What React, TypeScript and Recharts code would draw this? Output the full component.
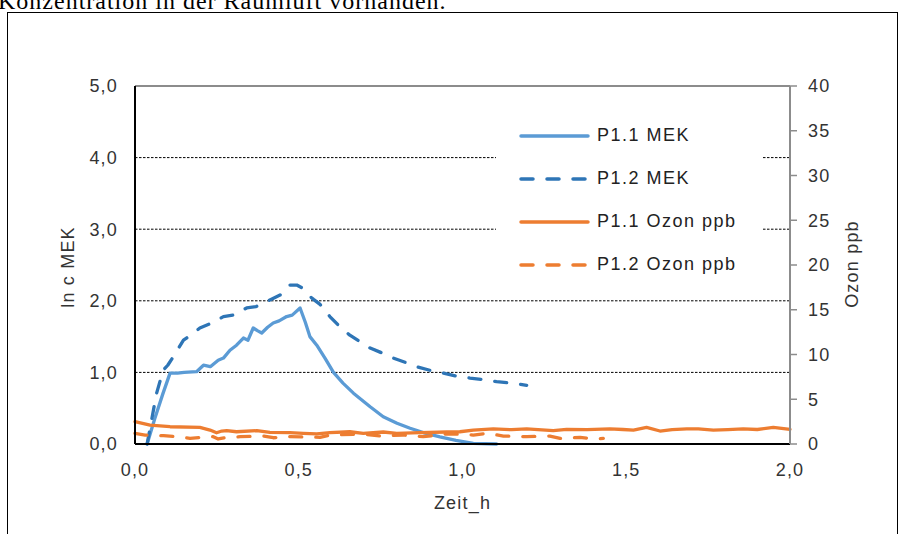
import { Legend, Line, LineChart, ReferenceLine, XAxis, YAxis } from "recharts";

type Pt = [number, number];

const xTicks = [0, 0.5, 1, 1.5, 2];
const mekTicks = [0, 1, 2, 3, 4, 5];
const ozonTicks = [0, 5, 10, 15, 20, 25, 30, 35, 40];
const gridValues = [1, 2, 3, 4];

// Zeit_h, ln c MEK
const p11Mek: Pt[] = [
  [0.037, 0], [0.06, 0.35], [0.085, 0.7], [0.107, 0.99], [0.13, 0.99], [0.15, 1.0],
  [0.188, 1.01], [0.209, 1.1], [0.23, 1.08], [0.254, 1.17], [0.27, 1.2], [0.29, 1.31],
  [0.31, 1.38], [0.331, 1.48], [0.345, 1.45], [0.361, 1.62], [0.375, 1.58], [0.387, 1.55],
  [0.405, 1.63], [0.422, 1.69], [0.44, 1.72], [0.463, 1.78], [0.48, 1.8], [0.504, 1.9],
  [0.52, 1.7], [0.534, 1.5], [0.555, 1.38], [0.58, 1.2], [0.606, 1.0], [0.635, 0.85],
  [0.667, 0.71], [0.718, 0.52], [0.758, 0.38], [0.8, 0.29], [0.84, 0.22], [0.88, 0.16],
  [0.931, 0.1], [0.98, 0.05], [1.033, 0.01], [1.104, 0],
];

const p12Mek: Pt[] = [
  [0.037, 0], [0.066, 0.71], [0.086, 1.03], [0.1, 1.1], [0.117, 1.22], [0.148, 1.45],
  [0.17, 1.52], [0.198, 1.62], [0.24, 1.7], [0.27, 1.78], [0.3, 1.8], [0.341, 1.9],
  [0.37, 1.92], [0.402, 1.99], [0.443, 2.08], [0.473, 2.22], [0.494, 2.22], [0.51, 2.18],
  [0.524, 2.1], [0.545, 2.02], [0.565, 1.95], [0.595, 1.78], [0.625, 1.64], [0.656, 1.52],
  [0.69, 1.42], [0.718, 1.34], [0.75, 1.28], [0.789, 1.2], [0.825, 1.14], [0.86, 1.08],
  [0.9, 1.03], [0.941, 0.99], [0.98, 0.95], [1.023, 0.92], [1.06, 0.9], [1.104, 0.87],
  [1.15, 0.85], [1.196, 0.82],
];

// Zeit_h, Ozon ppb
const p11Ozon: Pt[] = [
  [0, 2.5], [0.046, 2.1], [0.107, 1.93], [0.198, 1.86], [0.229, 1.56], [0.249, 1.26],
  [0.265, 1.45], [0.28, 1.49], [0.31, 1.37], [0.372, 1.49], [0.412, 1.3], [0.473, 1.26],
  [0.514, 1.19], [0.555, 1.12], [0.595, 1.26], [0.656, 1.37], [0.697, 1.19], [0.758, 1.34],
  [0.799, 1.19], [0.87, 1.26], [0.952, 1.34], [0.992, 1.37], [1.033, 1.56], [1.094, 1.68],
  [1.15, 1.6], [1.196, 1.68], [1.277, 1.49], [1.318, 1.64], [1.38, 1.6], [1.45, 1.68],
  [1.49, 1.62], [1.522, 1.56], [1.562, 1.86], [1.603, 1.45], [1.64, 1.6], [1.685, 1.68],
  [1.72, 1.7], [1.766, 1.56], [1.81, 1.6], [1.857, 1.68], [1.9, 1.62], [1.949, 1.86],
  [2.0, 1.64],
];

const p12Ozon: Pt[] = [
  [0, 1.19], [0.031, 1.0], [0.087, 0.93], [0.13, 0.8], [0.168, 0.63], [0.239, 0.82],
  [0.254, 0.56], [0.275, 0.7], [0.321, 0.82], [0.392, 0.89], [0.422, 0.7], [0.473, 0.82],
  [0.565, 0.75], [0.595, 1.0], [0.697, 1.12], [0.748, 0.89], [0.819, 1.0], [0.88, 0.82],
  [0.952, 1.12], [0.992, 1.1], [1.033, 1.0], [1.074, 1.19], [1.125, 0.89], [1.196, 0.82],
  [1.267, 0.89], [1.298, 0.63], [1.359, 0.75], [1.4, 0.56], [1.43, 0.63],
];

const series = [
  { name: "P1.1 MEK", points: p11Mek, axis: "left", color: "#5B9BD5", dashed: false },
  { name: "P1.2 MEK", points: p12Mek, axis: "left", color: "#2E75B6", dashed: true },
  { name: "P1.1 Ozon ppb", points: p11Ozon, axis: "right", color: "#ED7D31", dashed: false },
  { name: "P1.2 Ozon ppb", points: p12Ozon, axis: "right", color: "#ED7D31", dashed: true },
];

const font = "'Liberation Sans', Arial, sans-serif";
const textColor = "#333333";
const comma = (v: number) => v.toFixed(1).replace(".", ",");

function LegendBox() {
  return (
    <div style={{ background: "#fff", width: 266, height: 173, paddingTop: 1 }}>
      {series.map((s) => (
        <div key={s.name} style={{ display: "flex", alignItems: "center", height: 43 }}>
          <svg width={101} height={10} style={{ flex: "none" }}>
            <line
              x1={25}
              x2={92}
              y1={5}
              y2={5}
              stroke={s.color}
              strokeWidth={3.5}
              strokeLinecap="round"
              strokeDasharray={s.dashed ? "12 14" : undefined}
            />
          </svg>
          <span style={{ fontSize: 18, color: "#222", whiteSpace: "nowrap", letterSpacing: 1.5 }}>{s.name}</span>
        </div>
      ))}
    </div>
  );
}

function leftTitle(props: any) {
  const vb = props.viewBox || { x: 0, y: 86, width: 135, height: 358 };
  const cx = vb.x + 68;
  const cy = vb.y + vb.height / 2 + 2;
  return (
    <text x={cx} y={cy} fill={textColor} fontSize={18} textAnchor="middle" dominantBaseline="central"
      transform={`rotate(-90, ${cx}, ${cy})`}>
      ln c MEK
    </text>
  );
}

function rightTitle(props: any) {
  const vb = props.viewBox || { x: 790, y: 86, width: 110, height: 358 };
  const cx = vb.x + 62;
  const cy = vb.y + vb.height / 2 - 1;
  return (
    <text x={cx} y={cy} fill={textColor} fontSize={18} textAnchor="middle" dominantBaseline="central"
      transform={`rotate(-90, ${cx}, ${cy})`}>
      Ozon ppb
    </text>
  );
}

function bottomTitle(props: any) {
  const vb = props.viewBox || { x: 135, y: 444, width: 655, height: 90 };
  return (
    <text x={vb.x + vb.width / 2} y={vb.y + 65} fill={textColor} fontSize={18} textAnchor="middle">
      Zeit_h
    </text>
  );
}

export default function App() {
  return (
    <div style={{ position: "absolute", left: 0, top: 0, width: 900, height: 534, overflow: "hidden", background: "#fff" }}>
      <div
        style={{
          position: "absolute", left: -2, top: -11, fontFamily: "'Liberation Serif', 'Times New Roman', serif",
          fontSize: 24, lineHeight: "24px", letterSpacing: 1, whiteSpace: "nowrap", color: "#000",
        }}
      >
        Konzentration in der Raumluft vorhanden.
      </div>
      <div style={{ position: "absolute", left: 7, top: 12, width: 889, height: 540, border: "1px solid #000" }} />
      <div style={{ position: "absolute", left: 0, top: 0, fontFamily: font, letterSpacing: 1.2 }}>
        <LineChart width={900} height={534} margin={{ top: 86, right: 0, bottom: 0, left: 0 }}>
          <XAxis
            type="number"
            dataKey="x"
            domain={[0, 2]}
            ticks={xTicks}
            tickFormatter={comma}
            tick={{ fontSize: 18, fill: textColor }}
            tickLine={false}
            tickSize={0}
            tickMargin={19}
            height={90}
            axisLine={{ stroke: "#000", strokeWidth: 2 }}
            label={{ content: bottomTitle }}
          />
          <YAxis
            yAxisId="left"
            domain={[0, 5]}
            ticks={mekTicks}
            tickFormatter={comma}
            tick={{ fontSize: 18, fill: textColor }}
            tickLine={false}
            tickSize={0}
            tickMargin={17}
            width={135}
            axisLine={{ stroke: "#000", strokeWidth: 2 }}
            label={{ content: leftTitle }}
          />
          <YAxis
            yAxisId="right"
            orientation="right"
            domain={[0, 40]}
            ticks={ozonTicks}
            tick={{ fontSize: 18, fill: textColor }}
            tickLine={{ stroke: "#8c8c8c", strokeWidth: 1.5 }}
            tickSize={7}
            tickMargin={11}
            width={110}
            axisLine={{ stroke: "#8c8c8c", strokeWidth: 2 }}
            label={{ content: rightTitle }}
          />
          {gridValues.map((v) => (
            <ReferenceLine key={v} yAxisId="left" y={v} stroke="#000" strokeWidth={1} strokeDasharray="2.5 1.5" />
          ))}
          <ReferenceLine yAxisId="left" y={5} stroke="#8c8c8c" strokeWidth={2} />
          {series.map((s) => (
            <Line
              key={s.name}
              name={s.name}
              yAxisId={s.axis}
              data={s.points.map(([x, y]) => ({ x, y }))}
              dataKey="y"
              type="linear"
              stroke={s.color}
              strokeWidth={3.3}
              strokeLinecap="round"
              strokeLinejoin="round"
              strokeDasharray={s.dashed ? "12 14" : undefined}
              dot={false}
              activeDot={false}
              isAnimationActive={false}
            />
          ))}
          <Legend
            layout="vertical"
            align="center"
            verticalAlign="middle"
            content={() => <LegendBox />}
            wrapperStyle={{ left: 496, top: 113, width: 266, height: 173 }}
          />
        </LineChart>
      </div>
    </div>
  );
}
